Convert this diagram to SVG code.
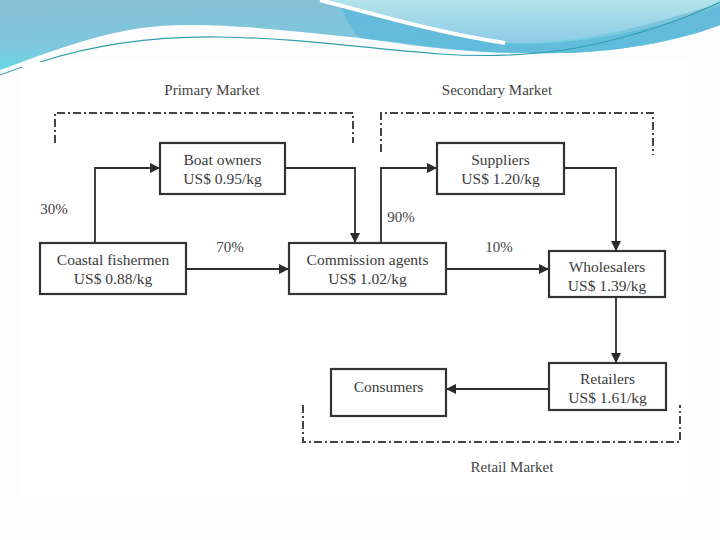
<svg xmlns="http://www.w3.org/2000/svg" width="720" height="540" viewBox="0 0 720 540">
<defs>
<linearGradient id="bg1" x1="0" y1="0" x2="0.3" y2="1">
<stop offset="0" stop-color="#86bfd6"/>
<stop offset="0.6" stop-color="#7fc6dc"/>
<stop offset="1" stop-color="#63dbe8"/>
</linearGradient>
<linearGradient id="bg2" x1="0" y1="0" x2="0" y2="1">
<stop offset="0" stop-color="#b2e3ea"/>
<stop offset="1" stop-color="#8ccbe6"/>
</linearGradient>
<marker id="arr" viewBox="0 0 10 10" refX="10" refY="5" markerWidth="12" markerHeight="10" markerUnits="userSpaceOnUse" orient="auto">
<path d="M0,0 L10,5 L0,10 Z" fill="#2b2b2b"/>
</marker>
<style>
.node rect{fill:#ffffff;stroke:#333;stroke-width:2.2}
.t{font-family:"Liberation Serif","Times New Roman",serif;font-size:15.5px;fill:#3a3a3a;text-anchor:middle}
.lbl{font-family:"Liberation Serif","Times New Roman",serif;font-size:15px;fill:#444;text-anchor:middle}
.c{fill:none;stroke:#2e2e2e;stroke-width:1.8}
.dd{fill:none;stroke:#444;stroke-width:2;stroke-dasharray:8 3 2 3}
</style>
</defs>
<rect x="0" y="0" width="720" height="540" fill="#fdfdfd"/>
<g id="decoration">
<path d="M0,0 H720 V25 C690,37 630,52 560,53 C470,55 430,45 360,38 C290,31 220,22 160,26 C110,30 60,48 22,62 L0,70 Z" fill="url(#bg1)"/>
<path d="M340,5 C400,24 460,38 505,43 C560,47 640,35 720,6 V25 C690,37 630,52 560,53 C470,55 420,46 360,38 C350,30 345,15 340,5 Z" fill="#5fb9d9" opacity="0.85"/>
<path d="M320,0 H720 V3 C650,25 580,45 505,43 C440,33 380,16 320,0 Z" fill="url(#bg2)"/>
<path d="M320,0 C380,16 440,33 505,43" fill="none" stroke="#ffffff" stroke-width="4"/>
<path d="M40,62 C90,46 150,36 220,37 C300,38 360,48 440,54 C500,58 560,55 620,38 C660,28 700,12 720,2" fill="none" stroke="#2f9fae" stroke-width="1.2"/>
<path d="M0,75 L22,67" fill="none" stroke="#2f9fae" stroke-width="1"/>
</g>
<rect x="22" y="62" width="670" height="438" fill="#ffffff"/>
<g id="market-brackets">
<path class="dd" d="M55,143 V113 H353 V143"/>
<path class="dd" d="M381,152 V113 H653 V155"/>
<path class="dd" d="M303,405 V442 H680 V405"/>
<text class="lbl" x="212" y="95">Primary Market</text>
<text class="lbl" x="497" y="95">Secondary Market</text>
<text class="lbl" x="512" y="472">Retail Market</text>
</g>
<g id="connectors">
<path class="c" d="M95,243 V168 H160" marker-end="url(#arr)"/>
<path class="c" d="M285,168 H355 V243" marker-end="url(#arr)"/>
<path class="c" d="M186,269 H289" marker-end="url(#arr)"/>
<path class="c" d="M381,243 V168 H437" marker-end="url(#arr)"/>
<path class="c" d="M564,168 H616 V251" marker-end="url(#arr)"/>
<path class="c" d="M446,269 H549" marker-end="url(#arr)"/>
<path class="c" d="M616,297 V363" marker-end="url(#arr)"/>
<path class="c" d="M549,389 H446" marker-end="url(#arr)"/>
<text class="lbl" x="54" y="214">30%</text>
<text class="lbl" x="230" y="252">70%</text>
<text class="lbl" x="401" y="222">90%</text>
<text class="lbl" x="499" y="252">10%</text>
</g>
<g id="coastal-fishermen" class="node">
<rect x="40" y="243" width="146" height="51"/>
<text class="t" x="113" y="265">Coastal fishermen</text>
<text class="t" x="113" y="284">US$ 0.88/kg</text>
</g>
<g id="boat-owners" class="node">
<rect x="160" y="143" width="125" height="51"/>
<text class="t" x="222.5" y="165">Boat owners</text>
<text class="t" x="222.5" y="184">US$ 0.95/kg</text>
</g>
<g id="commission-agents" class="node">
<rect x="289" y="243" width="157" height="51"/>
<text class="t" x="367.5" y="265">Commission agents</text>
<text class="t" x="367.5" y="284">US$ 1.02/kg</text>
</g>
<g id="suppliers" class="node">
<rect x="437" y="143" width="127" height="51"/>
<text class="t" x="500.5" y="165">Suppliers</text>
<text class="t" x="500.5" y="184">US$ 1.20/kg</text>
</g>
<g id="wholesalers" class="node">
<rect x="549" y="251" width="116" height="46"/>
<text class="t" x="607" y="272">Wholesalers</text>
<text class="t" x="607" y="291">US$ 1.39/kg</text>
</g>
<g id="retailers" class="node">
<rect x="549" y="363" width="117" height="47"/>
<text class="t" x="607.5" y="384">Retailers</text>
<text class="t" x="607.5" y="403">US$ 1.61/kg</text>
</g>
<g id="consumers" class="node">
<rect x="331" y="369" width="115" height="47"/>
<text class="t" x="388.5" y="392">Consumers</text>
</g>
</svg>
